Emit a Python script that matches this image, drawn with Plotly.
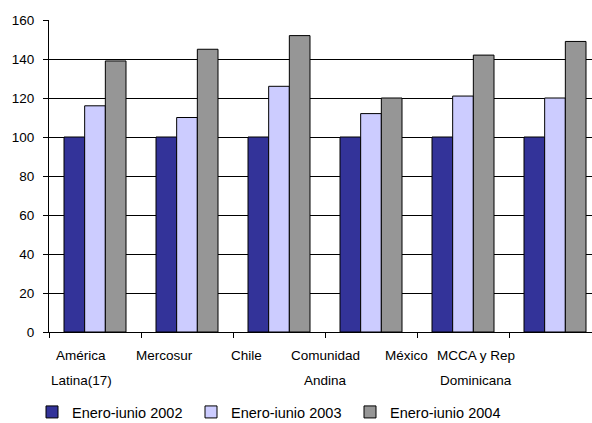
import plotly.graph_objects as go

categories = ["América Latina(17)", "Mercosur", "Chile", "Comunidad Andina", "México", "MCCA y Rep Dominicana"]
label_line1 = ["América", "Mercosur", "Chile", "Comunidad", "México", "MCCA y Rep"]
label_line2 = ["Latina(17)", "", "", "Andina", "", "Dominicana"]
series_names = ["Enero-iunio 2002", "Enero-iunio 2003", "Enero-iunio 2004"]
v2002 = [100, 100, 100, 100, 100, 100]
v2003 = [116, 110, 126, 112, 121, 120]
v2004 = [139, 145, 152, 120, 142, 149]
y_ticks = [0, 20, 40, 60, 80, 100, 120, 140, 160]

colors = ["#333399", "#CCCCFF", "#969696"]
font = "Liberation Sans, Arial, sans-serif"

fig = go.Figure()
for name, vals, col in zip(series_names, [v2002, v2003, v2004], colors):
    fig.add_trace(go.Bar(x=categories, y=vals, name=name,
                         marker=dict(color=col, line=dict(color="black", width=1))))

# category label positions (in category units), as drawn in the reference
label_pos = [-0.15, 0.76, 1.65, 2.51, 3.39, 4.14]
for p, l1, l2 in zip(label_pos, label_line1, label_line2):
    fig.add_annotation(x=p, y=0, xref="x", yref="paper", text=l1, showarrow=False,
                       yshift=-23, yanchor="middle", xanchor="center",
                       font=dict(family=font, size=13.5, color="black"))
    if l2:
        fig.add_annotation(x=p, y=0, xref="x", yref="paper", text=l2, showarrow=False,
                           yshift=-48, yanchor="middle", xanchor="center",
                           font=dict(family=font, size=13.5, color="black"))

fig.update_layout(
    width=592, height=423,
    margin=dict(l=49, r=0, t=20, b=91, autoexpand=False),
    paper_bgcolor="white", plot_bgcolor="white",
    barmode="group", bargap=0.326, bargroupgap=0,
    font=dict(family=font, size=13, color="black"),
    showlegend=True,
    legend=dict(orientation="h", xref="container", yref="container",
                x=32 / 592, xanchor="left", y=11 / 423, yanchor="middle",
                font=dict(family=font, size=14.5, color="black"),
                entrywidth=114, entrywidthmode="pixels",
                itemwidth=30, traceorder="normal"),
)
fig.update_xaxes(type="category", range=[-0.5, -0.5 + 543 / 92],
                 showticklabels=False, ticks="outside", tickson="boundaries",
                 ticklen=5, tickcolor="black", showline=True, linecolor="black",
                 linewidth=1, showgrid=False, zeroline=False)
fig.update_yaxes(range=[0, 160], tickvals=y_ticks, ticks="outside", ticklen=5,
                 tickcolor="black", showline=True, linecolor="black", linewidth=1,
                 showgrid=True, gridcolor="black", gridwidth=1, zeroline=False,
                 ticklabelstandoff=6, tickfont=dict(family=font, size=13.5, color="black"))

fig.write_html("out.html")
